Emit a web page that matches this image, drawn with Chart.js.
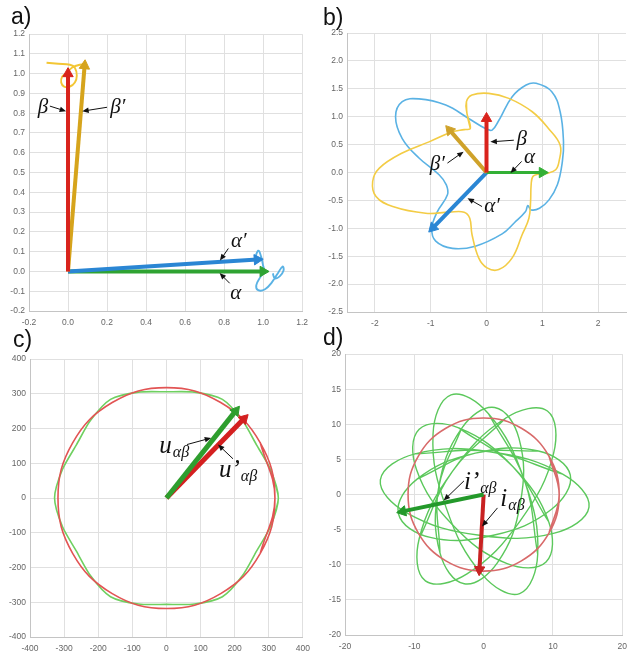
<!DOCTYPE html>
<html>
<head>
<meta charset="utf-8">
<script src="https://cdn.jsdelivr.net/npm/chart.js@4.4.1/dist/chart.umd.min.js"></script>
<style>
  body { margin: 0; background: #fff; width: 632px; height: 652px; overflow: hidden; position: relative; }
  canvas { position: absolute; }
  .tag { position: absolute; font: 23px "Liberation Sans", Arial, sans-serif; color: #111; z-index: 2; }
</style>
</head>
<body>
<canvas id="ca" width="315" height="306" style="left:0;top:25px"></canvas>
<canvas id="cb" width="315" height="308" style="left:318px;top:24px"></canvas>
<canvas id="cc" width="317" height="305" style="left:0;top:350px"></canvas>
<canvas id="cd" width="316" height="308" style="left:318px;top:345px"></canvas>
<div class="tag" style="left:11px;top:3px">a)</div>
<div class="tag" style="left:323px;top:4px">b)</div>
<div class="tag" style="left:13px;top:326px">c)</div>
<div class="tag" style="left:323px;top:324px">d)</div>
<script>
// ---- a) ----
var aTicksX = [-0.2, 0, 0.2, 0.4, 0.6, 0.8, 1.0, 1.2];
var aTicksY = [-0.2, -0.1, 0, 0.1, 0.2, 0.3, 0.4, 0.5, 0.6, 0.7, 0.8, 0.9, 1.0, 1.1, 1.2];
var aBeta = [0, 1.0];
var aBetaP = [0.085, 1.04];
var aAlphaP = [0.97, 0.06];
var aAlpha = [1.0, 0];
var aYellow = [[-0.11, 1.055], [-0.05, 1.05], [0.01, 1.045], [0.035, 1.03], [0.045, 0.99], [0.035, 0.955],
  [0.01, 0.935], [-0.02, 0.935], [-0.035, 0.955], [-0.03, 0.985], [-0.01, 1.0], [0.02, 1.03], [0.06, 1.045], [0.09, 1.045]];
var aBlue = [[0.955, 0.055], [0.975, 0.105], [0.99, 0.075], [1.0, 0.03], [1.005, 0.0], [0.985, -0.03], [0.965, -0.07],
  [0.975, -0.095], [1.01, -0.09], [1.045, -0.055], [1.075, -0.01], [1.1, 0.025], [1.105, 0.005], [1.085, -0.025],
  [1.06, -0.035], [1.05, -0.01]];

// ---- b) ----
var bTicksX = [-2, -1, 0, 1, 2];
var bTicksY = [-2.5, -2, -1.5, -1, -0.5, 0, 0.5, 1, 1.5, 2, 2.5];
var bBeta = [0, 0.97];
var bAlpha = [1.0, 0];
var bBetaP = [-0.66, 0.76];
var bAlphaP = [-0.96, -0.99];
var bYellow = [[-0.35, 1.06], [-0.36, 1.27], [-0.26, 1.39], [0.04, 1.42], [0.40, 1.33], [0.82, 1.09], [1.11, 0.79],
  [1.32, 0.49], [1.30, 0.2], [1.24, 0.05], [1.10, -0.01], [0.92, -0.03], [0.83, -0.07], [0.80, -0.22], [0.79, -0.52],
  [0.76, -0.82], [0.64, -1.11], [0.46, -1.53], [0.22, -1.74], [0.01, -1.71], [-0.14, -1.53], [-0.26, -1.11],
  [-0.30, -0.82], [-0.40, -0.71], [-0.67, -0.71], [-1.09, -0.73], [-1.68, -0.61], [-1.98, -0.43], [-2.04, -0.16],
  [-1.92, 0.08], [-1.51, 0.35], [-1.03, 0.55], [-0.61, 0.73], [-0.40, 0.77], [-0.29, 0.79]];
var bBlue = [[0.10, 0.76], [0.23, 0.95], [0.46, 1.36], [0.71, 1.57], [0.89, 1.60], [1.17, 1.45], [1.32, 1.09],
  [1.38, 0.55], [1.36, 0.2], [1.27, -0.22], [1.12, -0.49], [0.95, -0.64], [0.80, -0.67], [0.74, -0.59], [0.70, -0.70],
  [0.50, -0.90], [0.28, -1.10], [-0.20, -1.32], [-0.61, -1.36], [-0.91, -1.23], [-0.98, -1.0], [-0.88, -0.70],
  [-0.70, -0.40], [-0.72, -0.22], [-0.85, -0.04], [-1.21, 0.26], [-1.51, 0.61], [-1.63, 1.0], [-1.51, 1.27],
  [-1.21, 1.32], [-0.73, 1.21], [-0.32, 0.97], [-0.02, 0.79]];

// ---- c) ----
var cTicks = [-400, -300, -200, -100, 0, 100, 200, 300, 400];
var cU = [203, 251];
var cUP = [227, 228];
var cCircle = [[318, 0], [275, 159], [159, 275], [0, 318], [-159, 275], [-275, 159], [-318, 0], [-275, -159],
  [-159, -275], [0, -318], [159, -275], [275, -159]];
var cHex = [[328, 0], [305, 82], [264, 153], [223, 223], [164, 284], [82, 305], [0, 306], [-82, 305], [-164, 284],
  [-223, 223], [-264, 153], [-305, 82], [-328, 0], [-305, -82], [-264, -153], [-223, -223], [-164, -284], [-82, -305],
  [0, -306], [82, -305], [164, -284], [223, -223], [264, -153], [305, -82]];

// ---- d) ----
var dTicksX = [-20, -10, 0, 10, 20];
var dTicksY = [-20, -15, -10, -5, 0, 5, 10, 15, 20];
var dIP = [-11.7, -2.4];
var dI = [-0.6, -10.7];
var dCircle = [[10.9, 0], [9.44, 5.45], [5.45, 9.44], [0, 10.9], [-5.45, 9.44], [-9.44, 5.45], [-10.9, 0],
  [-9.44, -5.45], [-5.45, -9.44], [0, -10.9], [5.45, -9.44], [9.44, -5.45]];
var dLoop1 = [[5.9, 2.0], [0.7, 11.5], [-4.7, 14.2], [-7.3, 8.6], [-5.4, -1.9], [-0.2, -11.4], [5.2, -14.1], [7.8, -8.5]];
var dLoop2 = [[-6.5, 0.9], [-6.3, -8.3], [-2.8, -12.7], [2.0, -9.7], [5.3, -1.2], [5.1, 8.0], [1.6, 12.4], [-3.2, 9.4]];
var dLoop3 = [[-4.5, 3.3], [-9.3, -6.3], [-8.4, -12.3], [-2.4, -11.3], [5.3, -3.7], [10.1, 5.9], [9.2, 11.9], [3.2, 10.9]];
var dLoop4 = [[0.9, 6.1], [-9.9, 5.8], [-14.9, 2.1], [-11.1, -2.6], [-0.6, -5.8], [10.2, -5.5], [15.2, -1.8], [11.4, 2.9]];
var dLoop5 = [[-1.2, 5.9], [-9.6, 2.2], [-12.3, -2.7], [-7.7, -6.1], [1.4, -5.8], [9.8, -2.1], [12.5, 2.8], [7.9, 6.2]];
var dLoop6 = [[4.2, 4.0], [-3.6, 9.5], [-9.3, 9.3], [-9.7, 3.6], [-4.5, -4.3], [3.3, -9.8], [9.0, -9.6], [9.4, -3.9]];

function pts(arr) { return arr.map(function (p) { return { x: p[0], y: p[1] }; }); }
function closed(arr) { var n = arr.length; return pts([arr[n - 1]].concat(arr, [arr[0], arr[1]])); }

function curve(arr, color, isClosed, w, t) {
  return { data: isClosed ? closed(arr) : pts(arr), borderColor: color, borderWidth: w || 1.6,
    pointRadius: 0, showLine: true, tension: t || 0.4, fill: false };
}

function arrow(tip, color, w, head) {
  var rot = 90 - Math.atan2(tip[1], tip[0]) * 180 / Math.PI;
  return { data: [{ x: 0, y: 0 }, { x: tip[0], y: tip[1] }], borderColor: color, backgroundColor: color,
    borderWidth: w, showLine: true, tension: 0, pointStyle: 'triangle', pointRadius: [0, head],
    rotation: [0, rot], pointBorderColor: color, pointBackgroundColor: color, pointBorderWidth: 1 };
}

var notes = {
  id: 'notes',
  afterDatasetsDraw: function (chart, args, o) {
    var ctx = chart.ctx, sx = chart.scales.x, sy = chart.scales.y;
    ctx.save();
    (o.arrows || []).forEach(function (a) {
      var x1 = sx.getPixelForValue(a[0]), y1 = sy.getPixelForValue(a[1]);
      var x2 = sx.getPixelForValue(a[2]), y2 = sy.getPixelForValue(a[3]);
      var ang = Math.atan2(y2 - y1, x2 - x1);
      ctx.strokeStyle = '#111';
      ctx.fillStyle = '#111';
      ctx.lineWidth = 1;
      ctx.beginPath();
      ctx.moveTo(x1, y1);
      ctx.lineTo(x2 - 4 * Math.cos(ang), y2 - 4 * Math.sin(ang));
      ctx.stroke();
      ctx.beginPath();
      ctx.moveTo(x2, y2);
      ctx.lineTo(x2 - 7 * Math.cos(ang - 0.4), y2 - 7 * Math.sin(ang - 0.4));
      ctx.lineTo(x2 - 7 * Math.cos(ang + 0.4), y2 - 7 * Math.sin(ang + 0.4));
      ctx.closePath();
      ctx.fill();
    });
    (o.labels || []).forEach(function (l) {
      var px = sx.getPixelForValue(l.x), py = sy.getPixelForValue(l.y);
      ctx.fillStyle = '#111';
      ctx.font = 'italic ' + l.size + 'px "Liberation Serif", serif';
      if (!l.sub) {
        ctx.textAlign = 'center';
        ctx.textBaseline = 'middle';
        ctx.fillText(l.text, px, py);
      } else {
        ctx.textAlign = 'left';
        ctx.textBaseline = 'alphabetic';
        ctx.fillText(l.text, px, py);
        var w = ctx.measureText(l.text).width;
        ctx.font = 'italic ' + Math.round(l.size * 0.62) + 'px "Liberation Serif", serif';
        ctx.fillText(l.sub, px + w + 1, py + 4);
      }
    });
    ctx.restore();
  }
};

function axis(min, max, ticks, fmt, size, pad, isY) {
  var ax = {
    type: 'linear', min: min, max: max,
    afterBuildTicks: function (s) { s.ticks = ticks.map(function (v) { return { value: v }; }); },
    ticks: { callback: fmt, color: '#666', padding: pad, font: { family: 'Liberation Sans', size: 8.5 } },
    grid: { color: '#e0e0e0', drawTicks: false },
    border: { color: '#c4c4c4' }
  };
  ax.afterFit = isY ? function (s) { s.width = size; } : function (s) { s.height = size; };
  return ax;
}

function fix1(v) { return Number(v).toFixed(1); }
function plain(v) { return String(v); }

function make(id, box, x, y, datasets, noteOpts) {
  return new Chart(document.getElementById(id), {
    type: 'scatter',
    data: { datasets: datasets },
    options: {
      responsive: false,
      animation: false,
      events: [],
      layout: { padding: { left: 0, top: box.pt, right: box.pr, bottom: 0 } },
      scales: { x: x, y: y },
      plugins: { legend: { display: false }, tooltip: { enabled: false }, notes: noteOpts }
    },
    plugins: [notes]
  });
}

make('ca', { pt: 8, pr: 8 },
  axis(-0.2, 1.2, aTicksX, fix1, 20, 7, false),
  axis(-0.2, 1.2, aTicksY, fix1, 29, 4, true),
  [
    arrow(aBeta, '#d9231c', 4, 6),
    arrow(aBetaP, '#d6a41c', 4, 6),
    arrow(aAlphaP, '#2a86d4', 4, 6),
    arrow(aAlpha, '#2fa332', 4, 6),
    curve(aYellow, '#f3c634', false, 1.9),
    curve(aBlue, '#5ab2e4', false, 1.9)
  ],
  {
    labels: [
      { text: 'β', x: -0.128, y: 0.83, size: 21 },
      { text: 'β′', x: 0.255, y: 0.83, size: 21 },
      { text: 'α′', x: 0.875, y: 0.15, size: 21 },
      { text: 'α', x: 0.86, y: -0.11, size: 21 }
    ],
    arrows: [
      [-0.093, 0.836, -0.01, 0.81], [0.2, 0.83, 0.073, 0.81],
      [0.822, 0.116, 0.779, 0.055], [0.829, -0.06, 0.777, -0.008]
    ]
  });

make('cb', { pt: 8, pr: 6 },
  axis(-2.5, 2.5, bTicksX, plain, 20, 7, false),
  axis(-2.5, 2.5, bTicksY, fix1, 29, 4, true),
  [
    arrow(bBeta, '#d9231c', 4, 6),
    arrow(bAlpha, '#33b035', 3, 6),
    arrow(bBetaP, '#cfa22a', 4, 6),
    arrow(bAlphaP, '#2a86d4', 4, 6),
    curve(bYellow, '#f3cc45', true),
    curve(bBlue, '#5ab2e4', true)
  ],
  {
    labels: [
      { text: 'β', x: 0.63, y: 0.59, size: 21 },
      { text: 'α', x: 0.77, y: 0.27, size: 21 },
      { text: 'β′', x: -0.88, y: 0.14, size: 21 },
      { text: 'α′', x: 0.1, y: -0.61, size: 21 }
    ],
    arrows: [
      [0.49, 0.58, 0.07, 0.55], [0.63, 0.2, 0.43, -0.01],
      [-0.70, 0.17, -0.41, 0.375], [-0.08, -0.61, -0.34, -0.46]
    ]
  });

make('cc', { pt: 8, pr: 8 },
  axis(-400, 400, cTicks, plain, 18, 7, false),
  axis(-400, 400, cTicks, plain, 30, 4, true),
  [
    arrow(cU, '#2e9e2e', 5, 6),
    arrow(cUP, '#d42020', 5, 6),
    curve(cCircle, '#e25454', true),
    curve(cHex, '#6fd060', true, 1.6, 0.25)
  ],
  {
    labels: [
      { text: 'u', sub: 'αβ', x: -21, y: 129, size: 25 },
      { text: 'u’', sub: 'αβ', x: 154, y: 60, size: 25 }
    ],
    arrows: [[60, 154, 131, 173], [195, 113, 151, 154]]
  });

make('cd', { pt: 8, pr: 6 },
  axis(-20, 20, dTicksX, plain, 18, 7, false),
  axis(-20, 20, dTicksY, plain, 27, 4, true),
  [
    arrow(dIP, '#23992a', 4, 6),
    arrow(dI, '#c82222', 4, 6),
    curve(dCircle, '#d86a6a', true),
    curve(dLoop1, '#5cc85c', true, 1.4),
    curve(dLoop2, '#5cc85c', true, 1.4),
    curve(dLoop3, '#5cc85c', true, 1.4),
    curve(dLoop4, '#5cc85c', true, 1.4),
    curve(dLoop5, '#5cc85c', true, 1.4),
    curve(dLoop6, '#5cc85c', true, 1.4)
  ],
  {
    labels: [
      { text: 'i’', sub: 'αβ', x: -2.84, y: 0.85, size: 25 },
      { text: 'i', sub: 'αβ', x: 2.41, y: -1.7, size: 25 }
    ],
    arrows: [[-2.84, 1.94, -5.77, -0.85], [2.0, -1.9, -0.24, -4.54]]
  });
</script>
</body>
</html>
